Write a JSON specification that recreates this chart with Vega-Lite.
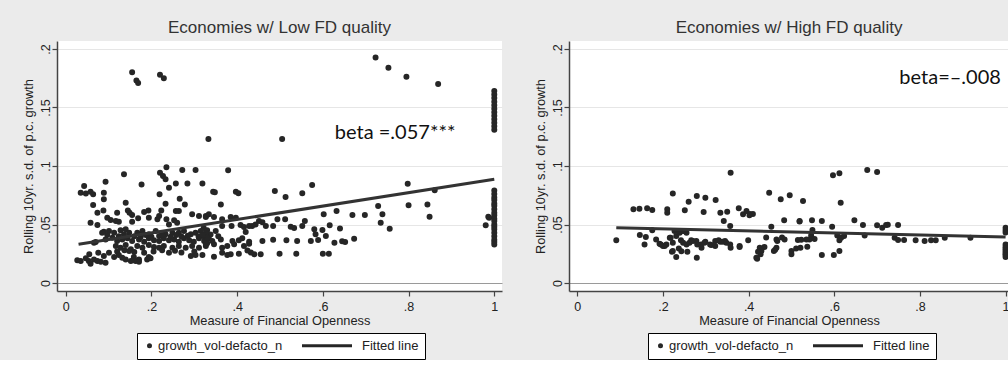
{
  "$schema": "https://vega.github.io/schema/vega-lite/v6.json",
  "background": "#ebebeb",
  "padding": {"left": 22, "top": 19, "right": 0, "bottom": 0},
  "spacing": 32,
  "config": {
    "view": {"fill": "white", "stroke": null},
    "axis": {
      "domainColor": "#444", "domainWidth": 1.5, "tickColor": "#444", "tickWidth": 1.2, "tickSize": 5,
      "labelFont": "Liberation Sans", "labelFontSize": 12.5, "labelColor": "#222",
      "titleFont": "Liberation Sans", "titleFontSize": 12.8, "titleFontWeight": "normal", "titleColor": "#222"
    },
    "axisX": {"grid": false, "labelPadding": 4, "titlePadding": 2, "labelAngle": 0},
    "axisY": {"grid": true, "gridWidth": 1, "labelAngle": -90, "labelAlign": "center", "labelBaseline": "alphabetic", "labelPadding": 3, "titlePadding": 4,
      "gridColor": {"condition": {"test": "datum.value === 0", "value": "#9a9a9a"}, "value": "#e6e6e6"}},
    "legend": {"title": null, "orient": "none", "direction": "horizontal", "columns": 2, "columnPadding": 13, "padding": 6,
      "strokeColor": "black", "fillColor": "white", "cornerRadius": 0, "labelFont": "Liberation Sans", "labelFontSize": 13, "labelColor": "#222",
      "labelOffset": 2, "symbolSize": 4, "symbolStrokeWidth": 3}
  },
  "datasets": {
    "leftPts": [
      {"x":0.155,"y":0.180},{"x":0.165,"y":0.173},{"x":0.169,"y":0.171},{"x":0.220,"y":0.178},{"x":0.229,"y":0.175},{"x":0.333,"y":0.123},{"x":0.505,"y":0.123},{"x":0.723,"y":0.1926},{"x":0.753,"y":0.184},{"x":0.795,"y":0.1763},{"x":0.869,"y":0.170},
      {"x":1,"y":0.164},{"x":1,"y":0.161},{"x":1,"y":0.158},{"x":1,"y":0.155},{"x":1,"y":0.152},{"x":1,"y":0.149},{"x":1,"y":0.146},{"x":1,"y":0.143},{"x":1,"y":0.140},{"x":1,"y":0.137},{"x":1,"y":0.134},{"x":1,"y":0.131},
      {"x":0.136,"y":0.0929},{"x":0.235,"y":0.099},{"x":0.272,"y":0.0966},{"x":0.303,"y":0.0966},{"x":0.22,"y":0.0943},{"x":0.227,"y":0.0915},{"x":0.233,"y":0.0886},{"x":0.093,"y":0.0866},{"x":0.177,"y":0.0843},{"x":0.257,"y":0.085},{"x":0.284,"y":0.085},{"x":0.319,"y":0.085},{"x":0.241,"y":0.0815},{"x":0.043,"y":0.083},{"x":0.035,"y":0.0772},{"x":0.047,"y":0.0764},{"x":0.058,"y":0.078},{"x":0.064,"y":0.0758},{"x":0.089,"y":0.0772},{"x":0.089,"y":0.0715},{"x":0.219,"y":0.0758},{"x":0.14,"y":0.0686},{"x":0.064,"y":0.0667},{"x":0.233,"y":0.0678},{"x":0.266,"y":0.072},{"x":0.278,"y":0.0672},{"x":0.074,"y":0.060},{"x":0.088,"y":0.062},{"x":0.12,"y":0.060},{"x":0.145,"y":0.062},{"x":0.149,"y":0.060},{"x":0.183,"y":0.0607},{"x":0.193,"y":0.062},{"x":0.223,"y":0.062},{"x":0.257,"y":0.0615},{"x":0.264,"y":0.0615},{"x":0.295,"y":0.0587},{"x":0.311,"y":0.0573},{"x":0.327,"y":0.0564},{"x":0.097,"y":0.0558},{"x":0.105,"y":0.0538},{"x":0.117,"y":0.053},{"x":0.124,"y":0.0524},{"x":0.155,"y":0.0581},{"x":0.155,"y":0.0524},{"x":0.169,"y":0.0553},{"x":0.194,"y":0.0558},{"x":0.214,"y":0.0544},{"x":0.218,"y":0.0573},{"x":0.235,"y":0.0544},{"x":0.241,"y":0.050},{"x":0.253,"y":0.0536},{"x":0.26,"y":0.0515},{"x":0.058,"y":0.0515},{"x":0.074,"y":0.0496},
      {"x":0.379,"y":0.0963},{"x":0.344,"y":0.078},{"x":0.348,"y":0.0775},{"x":0.397,"y":0.078},{"x":0.403,"y":0.0768},{"x":0.362,"y":0.0672},{"x":0.488,"y":0.0786},{"x":0.513,"y":0.0735},{"x":0.552,"y":0.0767},{"x":0.575,"y":0.0838},
      {"x":0.798,"y":0.0849},{"x":0.861,"y":0.0792},{"x":0.80,"y":0.0664},{"x":0.844,"y":0.0672},{"x":0.849,"y":0.0567},{"x":0.729,"y":0.0658},{"x":0.739,"y":0.0587},{"x":0.735,"y":0.0516},{"x":0.756,"y":0.0464},{"x":0.698,"y":0.0581},{"x":0.669,"y":0.0581},{"x":0.632,"y":0.0615},{"x":0.602,"y":0.0587},{"x":0.616,"y":0.0493},{"x":0.640,"y":0.0467},{"x":0.673,"y":0.0379},{"x":0.645,"y":0.0356},{"x":0.652,"y":0.035},{"x":0.627,"y":0.0344},{"x":0.607,"y":0.0402},{"x":0.599,"y":0.0453},{"x":0.589,"y":0.0368},{"x":0.572,"y":0.0359},{"x":0.583,"y":0.0416},{"x":0.600,"y":0.025},{"x":0.614,"y":0.025},{"x":0.540,"y":0.0359},{"x":0.515,"y":0.0365},{"x":0.484,"y":0.037},{"x":0.459,"y":0.0359},{"x":0.499,"y":0.025},{"x":0.538,"y":0.025},{"x":0.455,"y":0.0245},{"x":0.440,"y":0.0245},{"x":0.432,"y":0.026},{"x":0.428,"y":0.0336},{"x":0.525,"y":0.048},{"x":0.533,"y":0.047},{"x":0.552,"y":0.0487},{"x":0.558,"y":0.053},{"x":0.512,"y":0.0544},{"x":0.494,"y":0.0544},{"x":0.484,"y":0.0487},{"x":0.467,"y":0.0487},{"x":0.459,"y":0.052},{"x":0.451,"y":0.053},{"x":0.443,"y":0.050},{"x":0.435,"y":0.0487},{"x":0.58,"y":0.0459},{"x":0.98,"y":0.0493},{"x":0.986,"y":0.0567},{"x":0.988,"y":0.0558},
      {"x":1,"y":0.079},{"x":1,"y":0.076},{"x":1,"y":0.073},{"x":1,"y":0.071},{"x":1,"y":0.068},{"x":1,"y":0.066},{"x":1,"y":0.063},{"x":1,"y":0.060},{"x":1,"y":0.058},{"x":1,"y":0.055},{"x":1,"y":0.053},{"x":1,"y":0.050},{"x":1,"y":0.048},{"x":1,"y":0.046},{"x":1,"y":0.043},{"x":1,"y":0.040},{"x":1,"y":0.037},{"x":1,"y":0.035},{"x":1,"y":0.033},
      {"x":0.327,"y":0.0573},{"x":0.334,"y":0.0587},{"x":0.346,"y":0.0564},{"x":0.365,"y":0.0544},{"x":0.385,"y":0.0564},{"x":0.397,"y":0.0558},
      {"x":0.365,"y":0.0487},{"x":0.387,"y":0.0487},{"x":0.408,"y":0.0496},{"x":0.416,"y":0.0479},{"x":0.428,"y":0.0487},{"x":0.420,"y":0.0436},
      {"x":0.362,"y":0.0373},{"x":0.389,"y":0.0359},{"x":0.404,"y":0.0365},{"x":0.412,"y":0.0382},{"x":0.428,"y":0.0353},
      {"x":0.327,"y":0.0316},{"x":0.346,"y":0.0331},{"x":0.365,"y":0.0302},{"x":0.377,"y":0.0316},{"x":0.393,"y":0.0331},{"x":0.416,"y":0.0316},{"x":0.424,"y":0.0279},
      {"x":0.319,"y":0.0239},{"x":0.346,"y":0.0225},{"x":0.365,"y":0.0259},{"x":0.377,"y":0.0239},{"x":0.385,"y":0.0245},{"x":0.404,"y":0.025},
      {"x":0.322,"y":0.047},{"x":0.330,"y":0.045},{"x":0.338,"y":0.0415},{"x":0.334,"y":0.038},{"x":0.342,"y":0.036},{"x":0.350,"y":0.0445},{"x":0.356,"y":0.040},{"x":0.322,"y":0.040},{"x":0.33,"y":0.034},
      {"x":0.089,"y":0.0439},{"x":0.101,"y":0.0444},{"x":0.113,"y":0.043},{"x":0.128,"y":0.045},{"x":0.14,"y":0.0459},{"x":0.148,"y":0.043},{"x":0.167,"y":0.043},{"x":0.179,"y":0.0444},{"x":0.194,"y":0.0416},{"x":0.210,"y":0.0444},{"x":0.218,"y":0.0402},{"x":0.233,"y":0.0416},{"x":0.249,"y":0.043},{"x":0.264,"y":0.043},{"x":0.276,"y":0.0444},{"x":0.292,"y":0.0416},{"x":0.303,"y":0.043},{"x":0.315,"y":0.0444},{"x":0.327,"y":0.043},
      {"x":0.093,"y":0.0373},{"x":0.109,"y":0.0387},{"x":0.120,"y":0.0359},{"x":0.132,"y":0.0373},{"x":0.144,"y":0.0382},{"x":0.155,"y":0.0359},{"x":0.171,"y":0.0373},{"x":0.183,"y":0.0353},{"x":0.194,"y":0.0382},{"x":0.206,"y":0.0365},{"x":0.218,"y":0.0359},{"x":0.229,"y":0.0382},{"x":0.241,"y":0.0365},{"x":0.253,"y":0.0373},{"x":0.264,"y":0.0353},{"x":0.276,"y":0.0382},{"x":0.288,"y":0.0365},{"x":0.299,"y":0.0353},{"x":0.311,"y":0.0382},{"x":0.323,"y":0.0359},{"x":0.330,"y":0.0387},
      {"x":0.117,"y":0.0316},{"x":0.128,"y":0.0302},{"x":0.14,"y":0.0325},{"x":0.152,"y":0.0288},{"x":0.167,"y":0.0316},{"x":0.179,"y":0.0302},{"x":0.194,"y":0.0325},{"x":0.206,"y":0.0308},{"x":0.218,"y":0.0302},{"x":0.229,"y":0.0316},{"x":0.249,"y":0.0302},{"x":0.264,"y":0.0316},{"x":0.280,"y":0.0302},{"x":0.295,"y":0.0316},{"x":0.311,"y":0.0302},{"x":0.327,"y":0.0331},
      {"x":0.097,"y":0.041},{"x":0.124,"y":0.040},{"x":0.136,"y":0.0415},{"x":0.16,"y":0.040},{"x":0.175,"y":0.0395},{"x":0.187,"y":0.041},{"x":0.2,"y":0.0395},{"x":0.225,"y":0.041},{"x":0.245,"y":0.0395},{"x":0.258,"y":0.041},{"x":0.27,"y":0.0398},{"x":0.285,"y":0.0405},{"x":0.31,"y":0.0398},{"x":0.32,"y":0.041},
      {"x":0.12,"y":0.027},{"x":0.137,"y":0.028},{"x":0.16,"y":0.0265},{"x":0.205,"y":0.027},{"x":0.225,"y":0.028},{"x":0.255,"y":0.0275},{"x":0.27,"y":0.026},{"x":0.3,"y":0.027},
      {"x":0.089,"y":0.0231},{"x":0.101,"y":0.0259},{"x":0.113,"y":0.0222},{"x":0.124,"y":0.0239},{"x":0.132,"y":0.0217},{"x":0.148,"y":0.0274},{"x":0.159,"y":0.0222},{"x":0.171,"y":0.0202},{"x":0.183,"y":0.0259},{"x":0.194,"y":0.0222},{"x":0.241,"y":0.0259},{"x":0.292,"y":0.0231},{"x":0.303,"y":0.0239},
      {"x":0.027,"y":0.0194},{"x":0.035,"y":0.0188},{"x":0.047,"y":0.0211},{"x":0.054,"y":0.0188},{"x":0.058,"y":0.0165},{"x":0.066,"y":0.0202},{"x":0.074,"y":0.0188},{"x":0.082,"y":0.0182},{"x":0.093,"y":0.0174},{"x":0.163,"y":0.0188},{"x":0.171,"y":0.0182},{"x":0.190,"y":0.0202},{"x":0.198,"y":0.0211},
      {"x":0.066,"y":0.0344},{"x":0.085,"y":0.043},{"x":0.076,"y":0.0259},{"x":0.055,"y":0.0245},{"x":0.14,"y":0.0202},{"x":0.152,"y":0.0188},{"x":0.159,"y":0.0202},{"x":0.07,"y":0.035}
    ],
    "rightPts": [
      {"x":0.091,"y":0.0365},{"x":0.131,"y":0.063},{"x":0.145,"y":0.0635},{"x":0.163,"y":0.0638},{"x":0.175,"y":0.0624},{"x":0.146,"y":0.041},{"x":0.16,"y":0.0393},{"x":0.157,"y":0.033},{"x":0.175,"y":0.045},{"x":0.184,"y":0.0373},{"x":0.195,"y":0.033},{"x":0.204,"y":0.0316},{"x":0.21,"y":0.063},{"x":0.21,"y":0.060},{"x":0.223,"y":0.0764},{"x":0.216,"y":0.0387},{"x":0.223,"y":0.0345},{"x":0.231,"y":0.0402},{"x":0.239,"y":0.043},{"x":0.247,"y":0.0444},{"x":0.255,"y":0.043},{"x":0.221,"y":0.0268},{"x":0.231,"y":0.0222},{"x":0.243,"y":0.0271},{"x":0.257,"y":0.0268},{"x":0.251,"y":0.0621},{"x":0.26,"y":0.0695},{"x":0.279,"y":0.0744},{"x":0.299,"y":0.0729},{"x":0.323,"y":0.0709},{"x":0.295,"y":0.0607},{"x":0.334,"y":0.0601},{"x":0.35,"y":0.061},{"x":0.342,"y":0.053},{"x":0.358,"y":0.0943},{"x":0.357,"y":0.0487},{"x":0.266,"y":0.0365},{"x":0.278,"y":0.036},{"x":0.289,"y":0.033},{"x":0.299,"y":0.0353},{"x":0.31,"y":0.033},{"x":0.322,"y":0.036},{"x":0.334,"y":0.0353},{"x":0.345,"y":0.036},{"x":0.357,"y":0.033},{"x":0.358,"y":0.0302},{"x":0.279,"y":0.0217},{"x":0.377,"y":0.0638},{"x":0.387,"y":0.0587},{"x":0.395,"y":0.0615},{"x":0.403,"y":0.059},{"x":0.41,"y":0.059},{"x":0.399,"y":0.0365},{"x":0.379,"y":0.0316},{"x":0.42,"y":0.0208},{"x":0.426,"y":0.0302},
      {"x":0.192,"y":0.0336},{"x":0.2,"y":0.0316},{"x":0.208,"y":0.033},{"x":0.218,"y":0.0387},{"x":0.223,"y":0.0274},{"x":0.237,"y":0.0296},{"x":0.242,"y":0.0365},{"x":0.247,"y":0.0345},{"x":0.255,"y":0.033},{"x":0.262,"y":0.0345},{"x":0.27,"y":0.0359},{"x":0.28,"y":0.033},{"x":0.29,"y":0.0302},{"x":0.297,"y":0.0345},{"x":0.313,"y":0.0325},{"x":0.322,"y":0.0316},{"x":0.33,"y":0.0365},{"x":0.34,"y":0.0353},{"x":0.348,"y":0.0345},{"x":0.379,"y":0.0308},{"x":0.227,"y":0.0445},{"x":0.239,"y":0.0445},{"x":0.25,"y":0.0445},{"x":0.428,"y":0.0245},{"x":0.465,"y":0.0302},{"x":0.478,"y":0.039},{"x":0.511,"y":0.0296},{"x":0.402,"y":0.058},
      {"x":0.597,"y":0.092},{"x":0.612,"y":0.0937},{"x":0.677,"y":0.0966},{"x":0.70,"y":0.0949},{"x":0.615,"y":0.0687},{"x":0.448,"y":0.0772},{"x":0.475,"y":0.0715},{"x":0.496,"y":0.075},{"x":0.527,"y":0.070},{"x":0.453,"y":0.0481},{"x":0.483,"y":0.0536},{"x":0.519,"y":0.053},{"x":0.519,"y":0.0525},{"x":0.548,"y":0.0536},{"x":0.571,"y":0.053},{"x":0.595,"y":0.0481},{"x":0.647,"y":0.0536},{"x":0.667,"y":0.0496},{"x":0.70,"y":0.0493},{"x":0.712,"y":0.0473},{"x":0.721,"y":0.0496},{"x":0.725,"y":0.0499},{"x":0.749,"y":0.0496},{"x":0.549,"y":0.0453},{"x":0.546,"y":0.0407},{"x":0.542,"y":0.0373},{"x":0.554,"y":0.0376},{"x":0.535,"y":0.0373},{"x":0.523,"y":0.037},{"x":0.515,"y":0.0368},{"x":0.607,"y":0.0407},{"x":0.612,"y":0.0365},{"x":0.616,"y":0.0387},{"x":0.623,"y":0.0402},{"x":0.671,"y":0.0407},{"x":0.741,"y":0.0387},{"x":0.749,"y":0.0368},{"x":0.763,"y":0.0368},{"x":0.79,"y":0.0365},{"x":0.811,"y":0.036},{"x":0.826,"y":0.0365},{"x":0.837,"y":0.0365},{"x":0.858,"y":0.0387},{"x":0.918,"y":0.0387},{"x":0.484,"y":0.0373},{"x":0.465,"y":0.0373},{"x":0.467,"y":0.036},{"x":0.441,"y":0.039},{"x":0.437,"y":0.0308},{"x":0.43,"y":0.0274},{"x":0.422,"y":0.0268},{"x":0.418,"y":0.0217},{"x":0.459,"y":0.0274},{"x":0.462,"y":0.0285},{"x":0.5,"y":0.0274},{"x":0.5,"y":0.0245},{"x":0.521,"y":0.0302},{"x":0.537,"y":0.031},{"x":0.571,"y":0.0239},{"x":0.599,"y":0.0239},{"x":0.612,"y":0.0274},
      {"x":1,"y":0.0473},{"x":1,"y":0.045},{"x":1,"y":0.0432},{"x":1,"y":0.033},{"x":1,"y":0.031},{"x":1,"y":0.0296},{"x":1,"y":0.028},{"x":1,"y":0.0265},{"x":1,"y":0.025},{"x":1,"y":0.0239},{"x":1,"y":0.0222}
    ],
    "leftFit": [{"x":0.03,"y":0.0331},{"x":1,"y":0.0886}],
    "rightFit": [{"x":0.091,"y":0.0473},{"x":1,"y":0.0393}],
    "leftNote": [{"x":0.628,"y":0.1231,"label":"beta =.057***"}],
    "rightNote": [{"x":0.752,"y":0.1703,"label":"beta=–.008"}]
  },
  "resolve": {"scale": {"x": "independent", "y": "independent", "shape": "independent"}, "legend": {"shape": "independent"}},
  "hconcat": [
    {
      "width": 445, "height": 250,
      "title": {"text": "Economies w/ Low FD quality", "font": "Liberation Sans", "fontSize": 17, "fontWeight": "normal", "color": "#333", "anchor": "middle", "frame": "group", "offset": 4},
      "layer": [
        {
          "data": {"name": "leftPts"},
          "mark": {"type": "point", "filled": true, "size": 9, "opacity": 1, "color": "#262626", "stroke": "#262626", "strokeWidth": 3},
          "encoding": {
            "x": {"field": "x", "type": "quantitative", "scale": {"domain": [-0.0203, 1.018], "nice": false, "zero": false},
              "axis": {"title": "Measure of Financial Openness", "values": [0, 0.2, 0.4, 0.6, 0.8, 1], "labelExpr": "replace(format(datum.value, '.1~f'), '0.', '.')"}},
            "y": {"field": "y", "type": "quantitative", "scale": {"domain": [-0.0068, 0.2068], "nice": false, "zero": false},
              "axis": {"title": "Rolling 10yr. s.d. of p.c. growth", "values": [0, 0.05, 0.1, 0.15, 0.2], "labelExpr": "replace(format(datum.value, '.2~f'), '0.', '.')"}},
            "shape": {"datum": "growth_vol-defacto_n", "type": "nominal",
              "scale": {"domain": ["growth_vol-defacto_n", "Fitted line"], "range": ["circle", "M-51.5,0H-1.5"]},
              "legend": {"legendX": 80, "legendY": 292,
                "encode": {"symbols": {"fill": {"value": "#262626"}, "stroke": {"value": "#262626"}, "strokeWidth": {"value": 3}}}}}
          }
        },
        {
          "data": {"name": "leftFit"},
          "mark": {"type": "line", "color": "#333", "strokeWidth": 3},
          "encoding": {"x": {"field": "x", "type": "quantitative"}, "y": {"field": "y", "type": "quantitative"}}
        },
        {
          "data": {"name": "leftNote"},
          "mark": {"type": "text", "font": "Lato", "fontSize": 20, "color": "#111", "align": "left", "baseline": "alphabetic"},
          "encoding": {"x": {"field": "x", "type": "quantitative"}, "y": {"field": "y", "type": "quantitative"}, "text": {"field": "label"}}
        }
      ]
    },
    {
      "width": 440, "height": 250,
      "title": {"text": "Economies w/ High FD quality", "font": "Liberation Sans", "fontSize": 17, "fontWeight": "normal", "color": "#333", "anchor": "middle", "frame": "group", "offset": 4},
      "layer": [
        {
          "data": {"name": "rightPts"},
          "mark": {"type": "point", "filled": true, "size": 9, "opacity": 1, "color": "#262626", "stroke": "#262626", "strokeWidth": 3},
          "encoding": {
            "x": {"field": "x", "type": "quantitative", "scale": {"domain": [-0.0194, 1.008], "nice": false, "zero": false},
              "axis": {"title": "Measure of Financial Openness", "values": [0, 0.2, 0.4, 0.6, 0.8, 1], "labelExpr": "replace(format(datum.value, '.1~f'), '0.', '.')"}},
            "y": {"field": "y", "type": "quantitative", "scale": {"domain": [-0.0068, 0.2068], "nice": false, "zero": false},
              "axis": {"title": "Rolling 10yr. s.d. of p.c. growth", "values": [0, 0.05, 0.1, 0.15, 0.2], "labelExpr": "replace(format(datum.value, '.2~f'), '0.', '.')"}},
            "shape": {"datum": "growth_vol-defacto_n", "type": "nominal",
              "scale": {"domain": ["growth_vol-defacto_n", "Fitted line"], "range": ["circle", "M-51.5,0H-1.5"]},
              "legend": {"legendX": 79, "legendY": 292,
                "encode": {"symbols": {"fill": {"value": "#262626"}, "stroke": {"value": "#262626"}, "strokeWidth": {"value": 3}}}}}
          }
        },
        {
          "data": {"name": "rightFit"},
          "mark": {"type": "line", "color": "#333", "strokeWidth": 3},
          "encoding": {"x": {"field": "x", "type": "quantitative"}, "y": {"field": "y", "type": "quantitative"}}
        },
        {
          "data": {"name": "rightNote"},
          "mark": {"type": "text", "font": "Lato", "fontSize": 20, "color": "#111", "align": "left", "baseline": "alphabetic"},
          "encoding": {"x": {"field": "x", "type": "quantitative"}, "y": {"field": "y", "type": "quantitative"}, "text": {"field": "label"}}
        }
      ]
    }
  ]
}
